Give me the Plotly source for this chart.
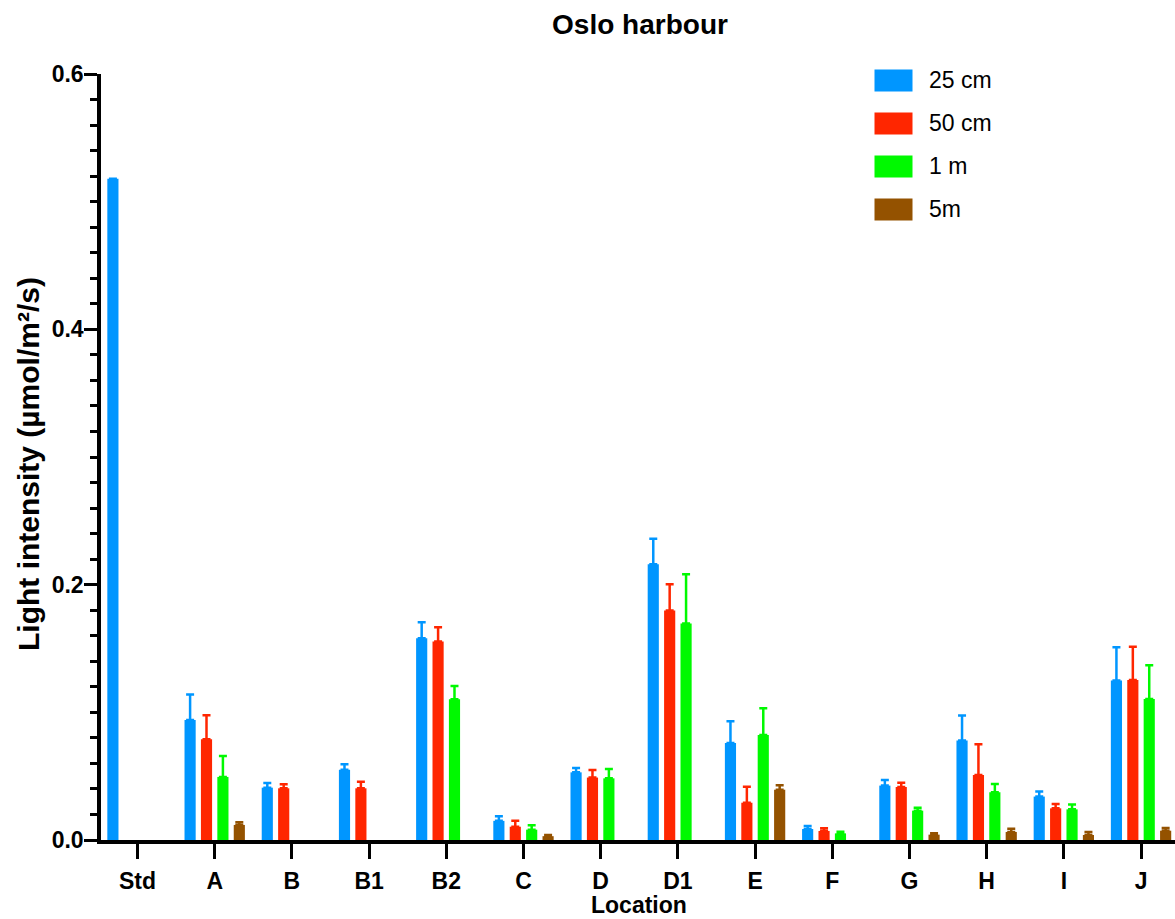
import plotly.graph_objects as go

categories = ["Std", "A", "B", "B1", "B2", "C", "D", "D1", "E", "F", "G", "H", "I", "J"]

series_names = ["25 cm", "50 cm", "1 m", "5m"]

cm25 = [0.518, 0.094, 0.041, 0.055, 0.158, 0.015, 0.053, 0.216, 0.076, 0.0086, 0.0426, 0.078, 0.034, 0.125]
cm25_err = [None, 0.020, 0.0037, 0.0044, 0.0125, 0.0037, 0.0033, 0.020, 0.017, 0.0024, 0.0044, 0.0196, 0.004, 0.026]

cm50 = [None, 0.079, 0.0405, 0.0405, 0.1554, 0.0104, 0.0489, 0.1797, 0.0292, 0.0071, 0.0415, 0.051, 0.0248, 0.1254]
cm50_err = [None, 0.0187, 0.0032, 0.0052, 0.0113, 0.0047, 0.006, 0.0207, 0.0126, 0.0021, 0.0034, 0.024, 0.0034, 0.0259]

m1 = [None, 0.0494, None, None, 0.1103, 0.0081, 0.0483, 0.1695, 0.0823, 0.0052, 0.023, 0.0374, 0.024, 0.1105]
m1_err = [None, 0.0164, None, None, 0.0104, 0.0034, 0.0073, 0.0387, 0.0209, 0.0012, 0.0022, 0.0065, 0.0038, 0.0264]

m5 = [None, 0.0118, None, None, None, 0.0030, None, None, 0.0394, None, 0.0042, 0.0063, 0.0039, 0.0073]
m5_err = [None, 0.0021, None, None, None, 0.001, None, None, 0.0035, None, 0.001, 0.0026, 0.0024, 0.0021]

colors = ["#0096FF", "#FF2600", "#00F900", "#945200"]

x_title = "Location"
y_title = "Light intensity (µmol/m²/s)"

FONT = "Liberation Sans, Arial, Helvetica, sans-serif"

W, H = 1175, 919
ML, MR, MT, MB = 101, 0, 74, 79
PW, PH = W - ML - MR, H - MT - MB


def px_x(px):
    return (px - ML) / PW


def px_y(py):
    return (H - MB - py) / PH


fig = go.Figure()
for name, vals, errs, col in zip(series_names, [cm25, cm50, m1, m5],
                                 [cm25_err, cm50_err, m1_err, m5_err], colors):
    fig.add_trace(go.Bar(
        x=categories, y=vals, name=name, showlegend=False,
        marker=dict(color=col, line=dict(width=0)),
        error_y=dict(type="data", array=errs, symmetric=False,
                     arrayminus=[0] * len(errs), color=col,
                     thickness=2.5, width=4),
    ))

# legend (large swatches like the original)
for i, (name, col) in enumerate(zip(series_names, colors)):
    top = 69.5 + 43 * i
    fig.add_shape(type="rect", xref="paper", yref="paper",
                  x0=px_x(874.5), x1=px_x(912.5), y0=px_y(top + 22), y1=px_y(top),
                  fillcolor=col, line=dict(width=0))
    fig.add_annotation(xref="paper", yref="paper", x=px_x(927), y=px_y(top + 11),
                       xanchor="left", yanchor="middle", showarrow=False, text=name,
                       font=dict(family=FONT, size=23, color="black"))

# axis titles
fig.add_annotation(xref="paper", yref="paper", x=px_x(639), y=px_y(905),
                   xanchor="center", yanchor="middle", showarrow=False, text=x_title,
                   font=dict(family=FONT, size=23, weight="bold", color="black"))
fig.add_annotation(xref="paper", yref="paper", x=px_x(28), y=px_y(464),
                   xanchor="center", yanchor="middle", showarrow=False, text=y_title,
                   textangle=-90,
                   font=dict(family=FONT, size=30, weight="bold", color="black"))

fig.update_layout(
    width=W, height=H,
    barmode="group", bargap=0.15, bargroupgap=0.32,
    plot_bgcolor="white", paper_bgcolor="white",
    margin=dict(l=ML, r=MR, t=MT, b=MB, autoexpand=False),
    font=dict(family=FONT, color="black"),
    title=dict(text="Oslo harbour", x=640 / W, xanchor="center", y=1 - 24.5 / H, yanchor="middle",
               font=dict(family=FONT, size=28, weight="bold", color="black")),
    showlegend=False,
)

fig.update_xaxes(
    range=[-0.473, 13.44], automargin=False,
    showline=True, linecolor="black", linewidth=4,
    ticks="outside", ticklen=15, tickwidth=3, tickcolor="black",
    ticklabelstandoff=2,
    tickfont=dict(family=FONT, size=23, weight="bold", color="black"),
    showgrid=False, zeroline=False,
)

fig.update_yaxes(
    range=[0, 0.6], automargin=False,
    tickvals=[0.0, 0.2, 0.4, 0.6], ticktext=["0.0", "0.2", "0.4", "0.6"],
    showline=True, linecolor="black", linewidth=3.5,
    ticks="outside", ticklen=13, tickwidth=3, tickcolor="black",
    ticklabelstandoff=-4,
    minor=dict(dtick=0.02, ticks="outside", ticklen=7, tickwidth=3, tickcolor="black", showgrid=False),
    tickfont=dict(family=FONT, size=23, weight="bold", color="black"),
    showgrid=False, zeroline=False,
)

fig.write_html("out.html", config={"displayModeBar": False},
               post_script="document.body.style.margin='0px';document.body.style.overflow='hidden';")
